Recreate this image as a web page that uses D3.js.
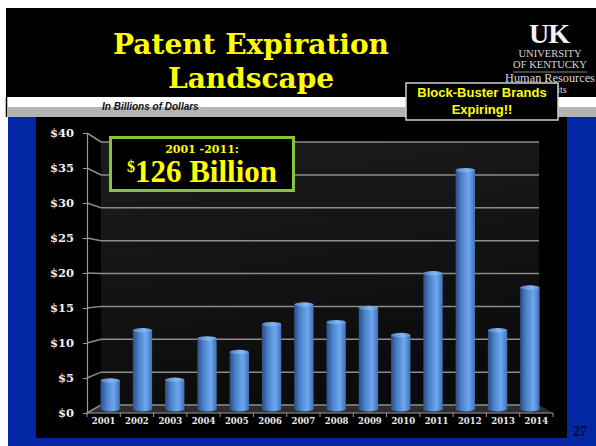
<!DOCTYPE html>
<html>
<head>
<meta charset="utf-8">
<script src="https://cdn.jsdelivr.net/npm/d3@7"></script>
<style>
    body { margin: 0; background: #fff; }
    svg { display: block; }
</style>
</head>
<body>
<div id="chart"></div>
<script>
// chart data
const years = ["2001", "2002", "2003", "2004", "2005", "2006", "2007", "2008", "2009", "2010", "2011", "2012", "2013", "2014"];
const values = [4.2, 11.6, 4.3, 10.4, 8.4, 12.5, 15.4, 12.8, 14.9, 10.9, 20.0, 35.2, 11.6, 17.9];
const yTicks = [0, 5, 10, 15, 20, 25, 30, 35, 40];

// slide texts
const titleLines = ["Patent Expiration", "Landscape"];
const logoLines = ["UNIVERSITY", "OF KENTUCKY", "Human Resources", "Benefits"];
const calloutLines = ["Block-Buster Brands", "Expiring!!"];
const totalLabel = "2001 -2011:";
const totalValue = "126 Billion";
const unitsNote = "In Billions of Dollars";
const pageNo = "27";

let width = 596, height = 446;

// 3d box of the chart: front edge, back wall, bars at mid depth
let front = { left: 87, right: 553, bottom: 413, top: 133 };
let back = { left: 101, right: 539, bottom: 405, top: 142 };

const svg = d3.select("#chart").append("svg")
    .attr("width", width)
    .attr("height", height)
    .style("background", "#fff");

const defs = svg.append("defs");

let cyl = defs.append("linearGradient").attr("id", "cyl")
    .attr("x1", "0%").attr("x2", "100%").attr("y1", "0%").attr("y2", "0%");
cyl.append("stop").attr("offset", "0%").attr("stop-color", "#2a4d86");
cyl.append("stop").attr("offset", "30%").attr("stop-color", "#4a80c8");
cyl.append("stop").attr("offset", "68%").attr("stop-color", "#6ea7ee");
cyl.append("stop").attr("offset", "100%").attr("stop-color", "#3f6fb6");

let cap = defs.append("linearGradient").attr("id", "cap")
    .attr("x1", "0%").attr("x2", "100%").attr("y1", "0%").attr("y2", "0%");
cap.append("stop").attr("offset", "0%").attr("stop-color", "#4f7fc2");
cap.append("stop").attr("offset", "60%").attr("stop-color", "#86b8f4");
cap.append("stop").attr("offset", "100%").attr("stop-color", "#5b8ed4");

let wall = defs.append("linearGradient").attr("id", "wall")
    .attr("x1", "0%").attr("x2", "30%").attr("y1", "0%").attr("y2", "100%");
wall.append("stop").attr("offset", "0%").attr("stop-color", "#1d1d1d");
wall.append("stop").attr("offset", "100%").attr("stop-color", "#0b0b0b");

// slide background
svg.append("rect").attr("x", 6).attr("y", 8).attr("width", 590).attr("height", 89).attr("fill", "#000");
svg.append("line").attr("x1", 6.5).attr("x2", 6.5).attr("y1", 97).attr("y2", 117).attr("stroke", "#000").attr("stroke-width", 1.5);
svg.append("rect").attr("x", 7).attr("y", 107).attr("width", 589).attr("height", 10).attr("fill", "#b3b3b3");
svg.append("rect").attr("x", 8).attr("y", 117).attr("width", 588).attr("height", 329).attr("fill", "#0326a5");
svg.append("rect").attr("x", 36).attr("y", 117).attr("width", 531).attr("height", 321).attr("fill", "#000");

// title
svg.append("g").selectAll("text")
    .data(titleLines)
    .enter()
    .append("text")
    .attr("x", 251)
    .attr("y", (d, i) => 54 + i * 34)
    .attr("text-anchor", "middle")
    .style("font-family", "DejaVu Serif")
    .style("font-weight", "bold")
    .style("font-size", "28px")
    .style("fill", "#ffff00")
    .text(d => d);

// UK logo
svg.append("text")
    .attr("x", 549).attr("y", 43)
    .attr("text-anchor", "middle")
    .style("font-family", "Liberation Serif")
    .style("font-weight", "bold")
    .style("font-size", "28px")
    .style("letter-spacing", "-1px")
    .style("fill", "#f2f2f2")
    .text("UK");
let logoY = [57, 68, 82, 93];
let logoSize = [10.5, 10.5, 12.3, 10];
svg.append("g").selectAll("text")
    .data(logoLines)
    .enter()
    .append("text")
    .attr("x", 550)
    .attr("y", (d, i) => logoY[i])
    .attr("text-anchor", "middle")
    .style("font-family", "Liberation Serif")
    .style("font-size", (d, i) => logoSize[i] + "px")
    .style("fill", "#d8d8d8")
    .text(d => d);
svg.append("line").attr("x1", 513).attr("x2", 587).attr("y1", 72).attr("y2", 72)
    .attr("stroke", "#888").attr("stroke-width", 1);

svg.append("text")
    .attr("x", 102).attr("y", 110)
    .style("font-family", "Liberation Sans")
    .style("font-weight", "bold")
    .style("font-style", "italic")
    .style("font-size", "10px")
    .style("fill", "#111")
    .text(unitsNote);

// scales
let yFront = d3.scaleLinear().domain([0, 40]).range([front.bottom, front.top]);
let yBack = d3.scaleLinear().domain([0, 40]).range([back.bottom, back.top]);
let yMid = d3.scaleLinear().domain([0, 40]).range([(front.bottom + back.bottom) / 2, (front.top + back.top) / 2]);

let xFront = d3.scaleBand().domain(years).range([front.left, front.right]);
let xMid = d3.scaleBand().domain(years)
    .range([(front.left + back.left) / 2, (front.right + back.right) / 2])
    .paddingInner(0.4)
    .paddingOuter(0.2);

const plot = svg.append("g");

// back wall + floor
plot.append("rect")
    .attr("x", back.left).attr("y", back.top)
    .attr("width", back.right - back.left).attr("height", back.bottom - back.top)
    .attr("fill", "url(#wall)");
plot.append("path")
    .attr("d", `M${front.left},${front.bottom}L${front.right},${front.bottom}L${back.right},${back.bottom}L${back.left},${back.bottom}Z`)
    .attr("fill", "#2c2c2c");

// gridlines run over the side wall to the back wall
plot.append("g").selectAll("path")
    .data(yTicks)
    .enter()
    .append("path")
    .attr("d", d => `M${front.left},${yFront(d)}L${back.left},${yBack(d)}L${back.right},${yBack(d)}`)
    .attr("fill", "none")
    .attr("stroke", "#8c8c8c")
    .attr("stroke-width", 1.5);

// floor front edge and ticks between years
plot.append("line")
    .attr("x1", front.left).attr("x2", front.right)
    .attr("y1", front.bottom).attr("y2", front.bottom)
    .attr("stroke", "#999").attr("stroke-width", 1.2);
plot.append("g").selectAll("line")
    .data(d3.range(years.length + 1))
    .enter()
    .append("line")
    .attr("x1", i => front.left + i * xFront.step())
    .attr("x2", i => front.left + i * xFront.step())
    .attr("y1", front.bottom)
    .attr("y2", front.bottom + 4)
    .attr("stroke", "#999");

// y axis on the front edge
let yAxis = d3.axisLeft(yFront)
    .tickValues(yTicks)
    .tickFormat(d => "$" + d)
    .tickSize(4)
    .tickSizeOuter(0)
    .tickPadding(9);
let ya = plot.append("g")
    .attr("transform", `translate(${front.left},0)`)
    .call(yAxis);
ya.select(".domain").attr("stroke", "#999").attr("stroke-width", 1.2);
ya.selectAll(".tick line").attr("stroke", "#999");
ya.selectAll(".tick text")
    .style("font-family", "DejaVu Serif")
    .style("font-weight", "bold")
    .style("font-size", "11.5px")
    .style("fill", "#f0f0f0");

// x axis labels
let xAxis = d3.axisBottom(xFront).tickSize(0).tickPadding(5);
let xa = plot.append("g")
    .attr("transform", `translate(0,${front.bottom})`)
    .call(xAxis);
xa.select(".domain").remove();
xa.selectAll(".tick text")
    .style("font-family", "DejaVu Serif")
    .style("font-weight", "bold")
    .style("font-size", "8.5px")
    .style("fill", "#e8e8e8");

// cylinder bars
let bw = xMid.bandwidth();
let bars = plot.append("g").selectAll("g")
    .data(years.map((y, i) => ({ year: y, value: values[i] })))
    .enter()
    .append("g");
bars.append("ellipse")
    .attr("cx", d => xMid(d.year) + bw / 2)
    .attr("cy", yMid(0))
    .attr("rx", bw / 2)
    .attr("ry", 2.5)
    .attr("fill", "url(#cyl)");
bars.append("rect")
    .attr("x", d => xMid(d.year))
    .attr("y", d => yMid(d.value))
    .attr("width", bw)
    .attr("height", d => yMid(0) - yMid(d.value))
    .attr("fill", "url(#cyl)");
bars.append("ellipse")
    .attr("cx", d => xMid(d.year) + bw / 2)
    .attr("cy", d => yMid(d.value))
    .attr("rx", bw / 2)
    .attr("ry", 2.2)
    .attr("fill", "url(#cap)");

// total callout
svg.append("rect")
    .attr("x", 110.5).attr("y", 137.5).attr("width", 183).attr("height", 53)
    .attr("fill", "#000")
    .attr("stroke", "#86c440")
    .attr("stroke-width", 3);
svg.append("text")
    .attr("x", 202).attr("y", 153)
    .attr("text-anchor", "middle")
    .style("font-family", "DejaVu Serif")
    .style("font-weight", "bold")
    .style("font-size", "11px")
    .style("fill", "#ffff00")
    .text(totalLabel);
let tv = svg.append("text")
    .attr("x", 202).attr("y", 182)
    .attr("text-anchor", "middle")
    .style("font-family", "Liberation Serif")
    .style("font-weight", "bold")
    .style("fill", "#ffff00");
tv.append("tspan").attr("dy", -10).style("font-size", "16px").text("$");
tv.append("tspan").attr("dy", 10).style("font-size", "31px").text(totalValue);

// block-buster callout
svg.append("rect")
    .attr("x", 406).attr("y", 83).attr("width", 152).attr("height", 37)
    .attr("fill", "#000")
    .attr("stroke", "#cfcfcf")
    .attr("stroke-width", 1.5);
svg.append("g").selectAll("text")
    .data(calloutLines)
    .enter()
    .append("text")
    .attr("x", 482)
    .attr("y", (d, i) => 97 + i * 16.5)
    .attr("text-anchor", "middle")
    .style("font-family", "Liberation Sans")
    .style("font-weight", "bold")
    .style("font-size", "13px")
    .style("fill", "#ffff00")
    .text(d => d);

svg.append("text")
    .attr("x", 580).attr("y", 436)
    .attr("text-anchor", "middle")
    .style("font-family", "Liberation Serif")
    .style("font-weight", "bold")
    .style("font-size", "14px")
    .style("fill", "#0a0a2a")
    .text(pageNo);
</script>
</body>
</html>
